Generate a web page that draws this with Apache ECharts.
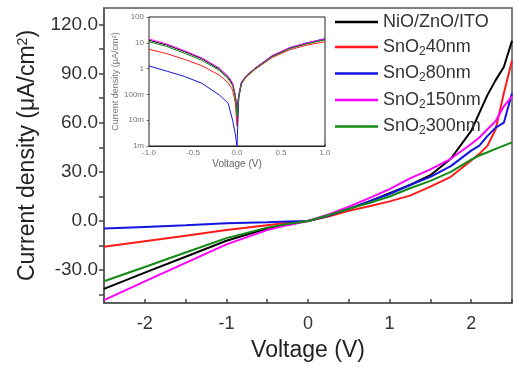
<!DOCTYPE html>
<html><head><meta charset="utf-8">
<script src="https://cdn.jsdelivr.net/npm/echarts@6/dist/echarts.min.js"></script>
<style>html,body{margin:0;padding:0;background:#fff}#c{width:515px;height:367px}</style>
</head><body><div id="c"></div>
<script>
// ---- data ----
const names = ['NiO/ZnO/ITO', 'SnO2 40nm', 'SnO2 80nm', 'SnO2 150nm', 'SnO2 300nm'];
const colors = ['#000000', '#ff1a1a', '#1414e0', '#ff00ff', '#138a13'];
const voltage = [-2.5, -2, -1.5, -1, -0.5, -0.25, 0, 0.25, 0.5, 0.75, 1, 1.25, 1.5, 1.75, 2, 2.1, 2.2, 2.3, 2.4, 2.5];
const jBlack = [-41.4, -31.5, -21.8, -12, -4.5, -2, 0, 3.2, 7.3, 12, 17, 22, 28, 38, 55, 66, 77, 86, 94, 110];
const jRed   = [-15.7, -12.3, -8.9, -5.5, -2.5, -1.1, 0, 2.8, 6.2, 9, 12, 15.5, 21, 27, 37, 41, 46, 56, 78, 98];
const jBlue  = [-4.6, -3.6, -2.6, -1.4, -0.8, -0.3, 0, 3.2, 7.5, 12, 16.5, 22, 27, 33.5, 43, 46, 52, 57, 60, 78];
const jPink  = [-48.2, -36.8, -25.5, -14.2, -5.5, -2.5, 0, 4, 8.8, 14, 19.5, 26, 31.5, 38, 47, 51, 56, 61, 70, 76];
const jGreen = [-36.7, -28, -19.2, -10.4, -4, -1.8, 0, 3.5, 7.5, 11, 15, 20, 24.5, 30, 37.5, 40, 42, 44, 46, 48];

const insetV = [-1, -0.8, -0.6, -0.4, -0.2, -0.1, -0.05, -0.02, 0, 0.02, 0.05, 0.1, 0.2, 0.4, 0.6, 0.8, 1];
const inBlack = [12.5, 8.2, 4.6, 2.4, 0.95, 0.45, 0.25, 0.09, 0.03, 0.09, 0.28, 0.5, 1.0, 3.0, 6.2, 9.5, 13.5];
const inRed   = [5.6, 3.8, 2.3, 1.3, 0.56, 0.28, 0.15, 0.05, 0.006, 0.07, 0.25, 0.45, 0.9, 2.7, 5.4, 8.2, 11];
const inBlue  = [1.27, 0.8, 0.5, 0.27, 0.095, 0.045, 0.01, 0.003, 0.001, 0.08, 0.28, 0.5, 1.0, 3.1, 6.5, 10, 14.5];
const inPink  = [14, 9, 5, 2.6, 1.05, 0.5, 0.28, 0.1, 0.02, 0.1, 0.3, 0.5, 1.0, 3.2, 6.5, 10, 14];
const inGreen = [11, 7.2, 4.0, 2.1, 0.85, 0.4, 0.22, 0.08, 0.015, 0.08, 0.27, 0.48, 0.95, 2.9, 6, 9.2, 13];

const xTickLabels = [-2, -1, 0, 1, 2];
const yTickLabels = [-30, 0, 30, 60, 90, 120];
const yTickMarks = [-45, -30, -15, 0, 15, 30, 45, 60, 75, 90, 105, 120];
const insetYTickValues = [0.001, 0.01, 0.1, 1, 10, 100];
const insetYTickLabels = ['1m', '10m', '100m', '1', '10', '100'];

// ---- chart ----
const FONT = 'Liberation Sans, Arial, sans-serif';
const mainSets = [jBlack, jRed, jBlue, jPink, jGreen];
const insetSets = [inBlack, inRed, inBlue, inPink, inGreen];
const pair = (xs, ys) => xs.map((x, i) => [x, ys[i]]);
const axisGrey = '#555';

const series = [];
names.forEach((n, i) => {
  series.push({
    name: n, type: 'line', xAxisIndex: 0, yAxisIndex: 0,
    data: pair(voltage, mainSets[i]), showSymbol: false, smooth: false,
    lineStyle: { color: colors[i], width: 2 }, itemStyle: { color: colors[i] }, z: 3
  });
});
names.forEach((n, i) => {
  series.push({
    name: n, type: 'line', xAxisIndex: 1, yAxisIndex: 1,
    data: pair(insetV, insetSets[i]), showSymbol: false, smooth: false,
    lineStyle: { color: colors[i], width: 1 }, itemStyle: { color: colors[i] }, z: 5
  });
});

const chart = echarts.init(document.getElementById('c'), null, { renderer: 'canvas' });
chart.setOption({
  animation: false,
  textStyle: { fontFamily: FONT },
  grid: [
    { left: 104, top: 8, right: 1, bottom: 60, show: true, borderColor: axisGrey, borderWidth: 1.5, z: 0 },
    { left: 149, top: 17, width: 176, height: 129, show: true, backgroundColor: '#fff', borderColor: '#222', borderWidth: 1, z: 4 }
  ],
  legend: {
    data: names, orient: 'vertical', left: 330, top: 8, itemWidth: 43, itemHeight: 2.5, itemGap: 7,
    icon: 'rect', selectedMode: false,
    textStyle: { fontSize: 18, color: '#333', fontFamily: FONT,
      rich: { n: { fontSize: 18, color: '#333' }, s: { fontSize: 12, color: '#333', verticalAlign: 'bottom', padding: [9, 0, 0, 0] } } },
    formatter: (name) => name.startsWith('SnO2 ') ? '{n|SnO}{s|2}{n|' + name.slice(5) + '}' : name
  },
  xAxis: [
    { gridIndex: 0, type: 'value', min: -2.5, max: 2.5, interval: 0.5,
      axisLine: { show: true, onZero: false, lineStyle: { color: axisGrey, width: 1.5 } },
      axisTick: { show: true, inside: true, length: 4, lineStyle: { color: '#444', width: 1.5 } },
      axisLabel: { fontSize: 18, color: '#333', margin: 12, showMinLabel: true, showMaxLabel: true,
        formatter: v => xTickLabels.some(t => Math.abs(t - v) < 1e-9) ? String(v) : '' },
      splitLine: { show: false },
      name: 'Voltage (V)', nameLocation: 'middle', nameGap: 36, nameTextStyle: { fontSize: 23, color: '#222' } },
    { gridIndex: 1, type: 'value', min: -1, max: 1, interval: 0.5,
      axisLine: { show: true, onZero: false, lineStyle: { color: '#222', width: 1 } },
      axisTick: { show: true, inside: true, length: 2.5, lineStyle: { color: '#555' } },
      minorTick: { show: true, splitNumber: 2, length: 1.5 },
      axisLabel: { fontSize: 8, color: '#777', margin: 3, formatter: v => v.toFixed(1) },
      splitLine: { show: false },
      name: 'Voltage (V)', nameLocation: 'middle', nameGap: 13, nameTextStyle: { fontSize: 10, color: '#666' } }
  ],
  yAxis: [
    { gridIndex: 0, type: 'value', min: -50, max: 130,
      axisLine: { show: true, onZero: false, lineStyle: { color: axisGrey, width: 1.5 } },
      axisTick: { show: true, inside: false, length: 5, customValues: yTickMarks, lineStyle: { color: '#444', width: 1.5 } },
      axisLabel: { customValues: yTickLabels, fontSize: 19, color: '#333', margin: 6, formatter: v => v.toFixed(1) },
      splitLine: { show: false },
      name: 'Current density (μA/cm{sup|2})', nameLocation: 'middle', nameGap: 63,
      nameTextStyle: { fontSize: 23, color: '#222', rich: { sup: { fontSize: 14, color: '#222', verticalAlign: 'top', padding: [0, 0, 10, 0] } } } },
    { gridIndex: 1, type: 'log', logBase: 10, min: 0.001, max: 100,
      axisLine: { show: true, onZero: false, lineStyle: { color: '#222', width: 1 } },
      axisTick: { show: true, inside: false, length: 2.5, lineStyle: { color: '#777' } },
      axisLabel: { fontSize: 8, color: '#777', margin: 5,
        formatter: v => { const k = insetYTickValues.findIndex(t => Math.abs(Math.log10(t) - Math.log10(v)) < 1e-6); return k >= 0 ? insetYTickLabels[k] : ''; } },
      splitLine: { show: false },
      name: 'Current density (μA/cm{sup|2})', nameLocation: 'middle', nameGap: 23,
      nameTextStyle: { fontSize: 9, color: '#777', rich: { sup: { fontSize: 6, color: '#777', verticalAlign: 'top' } } } }
  ],
  series: series
});
</script>
</body></html>
